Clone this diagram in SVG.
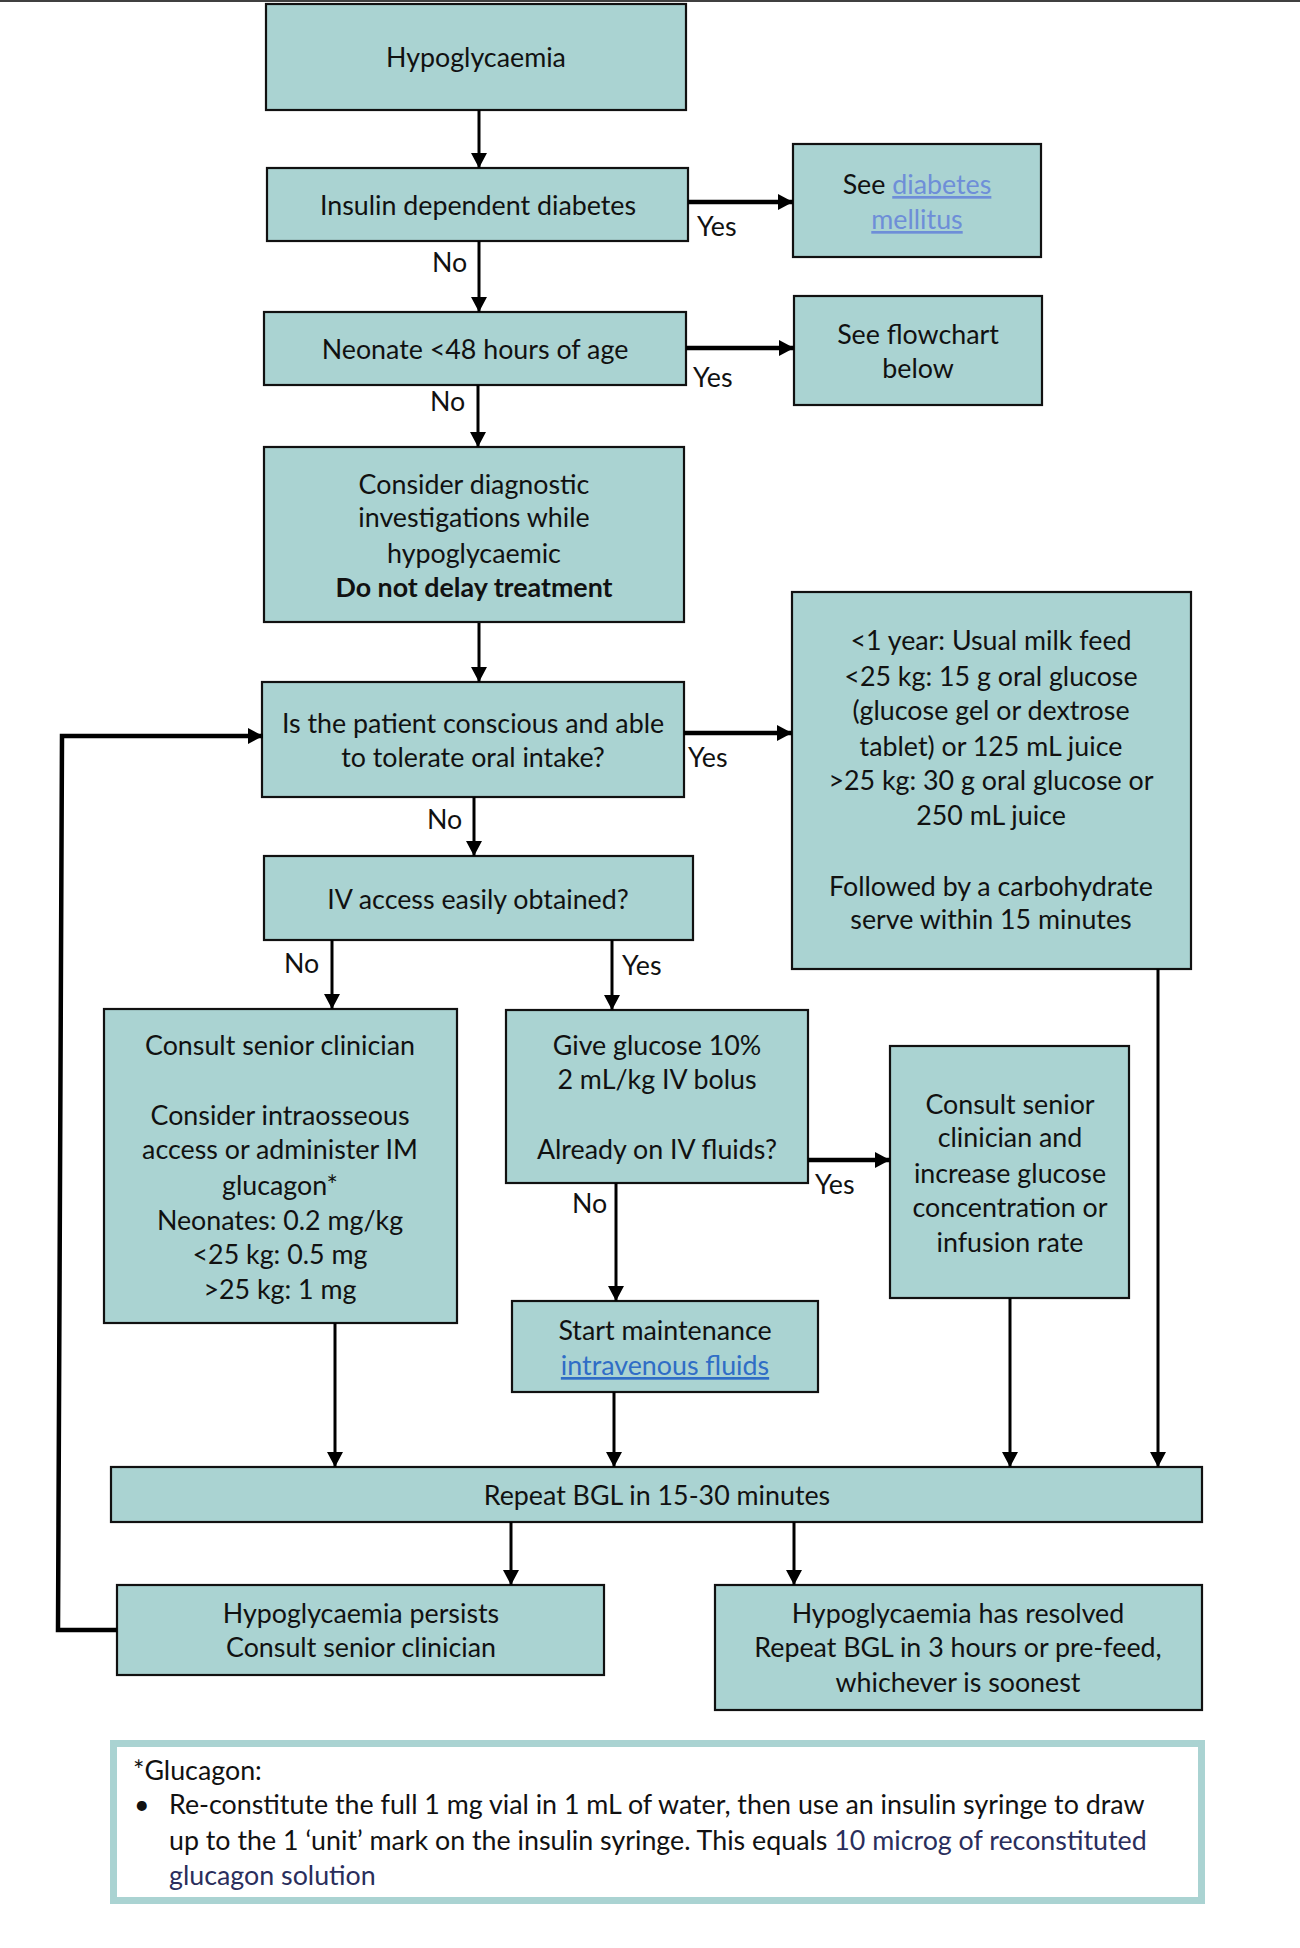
<svg xmlns="http://www.w3.org/2000/svg" width="1300" height="1948" viewBox="0 0 1300 1948">
<style>
.box{fill:#AAD3D2;stroke:#111;stroke-width:2.2}
.t{font-family:Lato,"Liberation Sans",sans-serif;font-size:26.8px;fill:#111;text-anchor:middle}
.l{font-family:Lato,"Liberation Sans",sans-serif;font-size:26.8px;fill:#111}
.c{fill:none;stroke:#000;stroke-width:3}
.ct{fill:none;stroke:#000;stroke-width:4.5}
.lk1{fill:#6E8ED8;text-decoration:underline}
.lk2{fill:#2F6DC6;text-decoration:underline}
.nv{fill:#2A2E5C}
</style>
<defs>
<marker id="ah" markerUnits="userSpaceOnUse" markerWidth="18" markerHeight="18" viewBox="0 0 18 18" refX="16" refY="9" orient="auto">
<path d="M1,1 L16,9 L1,17 z" fill="#000"/>
</marker>
</defs>
<rect width="1300" height="1948" fill="#fff"/>
<line x1="0" y1="1" x2="1300" y2="1" stroke="#000" stroke-width="1.5"/>

<g id="n1"><rect class="box" x="266" y="4" width="420" height="106"/><text class="t" x="476" y="67">Hypoglycaemia</text></g>
<g id="n2"><rect class="box" x="267" y="168" width="421" height="73"/><text class="t" x="478" y="215">Insulin dependent diabetes</text></g>
<g id="n3"><rect class="box" x="793" y="144" width="248" height="113"/><text class="t" x="917" y="194">See <tspan class="lk1">diabetes</tspan></text><text class="t" x="917" y="229"><tspan class="lk1">mellitus</tspan></text></g>
<g id="n4"><rect class="box" x="264" y="312" width="422" height="73"/><text class="t" x="475" y="359">Neonate &lt;48 hours of age</text></g>
<g id="n5"><rect class="box" x="794" y="296" width="248" height="109"/><text class="t" x="918" y="344">See flowchart</text><text class="t" x="918" y="378">below</text></g>
<g id="n6"><rect class="box" x="264" y="447" width="420" height="175"/><text class="t" x="474" y="494">Consider diagnostic</text><text class="t" x="474" y="527">investigations while</text><text class="t" x="474" y="563">hypoglycaemic</text><text class="t" x="474" y="597" font-weight="bold">Do not delay treatment</text></g>
<g id="n7"><rect class="box" x="262" y="682" width="422" height="115"/><text class="t" x="473" y="733">Is the patient conscious and able</text><text class="t" x="473" y="767">to tolerate oral intake?</text></g>
<g id="n8"><rect class="box" x="792" y="592" width="399" height="377"/>
<text class="t" x="991" y="650">&lt;1 year: Usual milk feed</text>
<text class="t" x="991" y="686">&lt;25 kg: 15 g oral glucose</text>
<text class="t" x="991" y="720">(glucose gel or dextrose</text>
<text class="t" x="991" y="756">tablet) or 125 mL juice</text>
<text class="t" x="991" y="790">&gt;25 kg: 30 g oral glucose or</text>
<text class="t" x="991" y="825">250 mL juice</text>
<text class="t" x="991" y="896">Followed by a carbohydrate</text>
<text class="t" x="991" y="929">serve within 15 minutes</text></g>
<g id="n9"><rect class="box" x="264" y="856" width="429" height="84"/><text class="t" x="478" y="909">IV access easily obtained?</text></g>
<g id="n10"><rect class="box" x="104" y="1009" width="353" height="314"/>
<text class="t" x="280" y="1055">Consult senior clinician</text>
<text class="t" x="280" y="1125">Consider intraosseous</text>
<text class="t" x="280" y="1159">access or administer IM</text>
<text class="t" x="280" y="1195">glucagon*</text>
<text class="t" x="280" y="1230">Neonates: 0.2 mg/kg</text>
<text class="t" x="280" y="1264">&lt;25 kg: 0.5 mg</text>
<text class="t" x="280" y="1299">&gt;25 kg: 1 mg</text></g>
<g id="n11"><rect class="box" x="506" y="1010" width="302" height="173"/>
<text class="t" x="657" y="1055">Give glucose 10%</text>
<text class="t" x="657" y="1089">2 mL/kg IV bolus</text>
<text class="t" x="657" y="1159">Already on IV fluids?</text></g>
<g id="n12"><rect class="box" x="890" y="1046" width="239" height="252"/>
<text class="t" x="1010" y="1114">Consult senior</text>
<text class="t" x="1010" y="1147">clinician and</text>
<text class="t" x="1010" y="1183">increase glucose</text>
<text class="t" x="1010" y="1217">concentration or</text>
<text class="t" x="1010" y="1252">infusion rate</text></g>
<g id="n13"><rect class="box" x="512" y="1301" width="306" height="91"/>
<text class="t" x="665" y="1340">Start maintenance</text>
<text class="t" x="665" y="1375"><tspan class="lk2">intravenous fluids</tspan></text></g>
<g id="n14"><rect class="box" x="111" y="1467" width="1091" height="55"/><text class="t" x="657" y="1505">Repeat BGL in 15-30 minutes</text></g>
<g id="n15"><rect class="box" x="117" y="1585" width="487" height="90"/>
<text class="t" x="361" y="1623">Hypoglycaemia persists</text>
<text class="t" x="361" y="1657">Consult senior clinician</text></g>
<g id="n16"><rect class="box" x="715" y="1585" width="487" height="125"/>
<text class="t" x="958" y="1623">Hypoglycaemia has resolved</text>
<text class="t" x="958" y="1657">Repeat BGL in 3 hours or pre-feed,</text>
<text class="t" x="958" y="1692">whichever is soonest</text></g>
<g id="note"><rect x="113.5" y="1743.5" width="1088" height="157" fill="#fff" stroke="#AAD3D2" stroke-width="7"/>
<text class="l" x="133" y="1780">*Glucagon:</text>
<text class="l" x="134" y="1814">•</text>
<text class="l" x="169" y="1814">Re-constitute the full 1 mg vial in 1 mL of water, then use an insulin syringe to draw</text>
<text class="l" x="169" y="1850">up to the 1 ‘unit’ mark on the insulin syringe. This equals <tspan class="nv">10 microg of reconstituted</tspan></text>
<text class="l" x="169" y="1885"><tspan class="nv">glucagon solution</tspan></text></g>

<g id="connectors">
<path class="c" d="M479,110 V168" marker-end="url(#ah)"/>
<path class="ct" d="M688,202 H793" marker-end="url(#ah)"/>
<path class="c" d="M479,241 V312" marker-end="url(#ah)"/>
<path class="ct" d="M686,348 H794" marker-end="url(#ah)"/>
<path class="c" d="M478,385 V447" marker-end="url(#ah)"/>
<path class="c" d="M479,623 V682" marker-end="url(#ah)"/>
<path class="ct" d="M684,733 H792" marker-end="url(#ah)"/>
<path class="c" d="M474,797 V856" marker-end="url(#ah)"/>
<path class="c" d="M332,940 V1009" marker-end="url(#ah)"/>
<path class="c" d="M612,940 V1010" marker-end="url(#ah)"/>
<path class="ct" d="M808,1160 H890" marker-end="url(#ah)"/>
<path class="c" d="M616,1183 V1301" marker-end="url(#ah)"/>
<path class="c" d="M335,1323 V1467" marker-end="url(#ah)"/>
<path class="c" d="M614,1392 V1467" marker-end="url(#ah)"/>
<path class="c" d="M1010,1298 V1467" marker-end="url(#ah)"/>
<path class="c" d="M1158,969 V1467" marker-end="url(#ah)"/>
<path class="c" d="M511,1522 V1585" marker-end="url(#ah)"/>
<path class="c" d="M794,1522 V1585" marker-end="url(#ah)"/>
<path class="ct" d="M117,1630 H58 L62,736 H263" marker-end="url(#ah)"/>
<text class="l" x="697" y="236">Yes</text>
<text class="l" x="432" y="272">No</text>
<text class="l" x="693" y="387">Yes</text>
<text class="l" x="430" y="411">No</text>
<text class="l" x="688" y="767">Yes</text>
<text class="l" x="427" y="829">No</text>
<text class="l" x="284" y="973">No</text>
<text class="l" x="622" y="975">Yes</text>
<text class="l" x="815" y="1194">Yes</text>
<text class="l" x="572" y="1213">No</text>
</g>
</svg>
